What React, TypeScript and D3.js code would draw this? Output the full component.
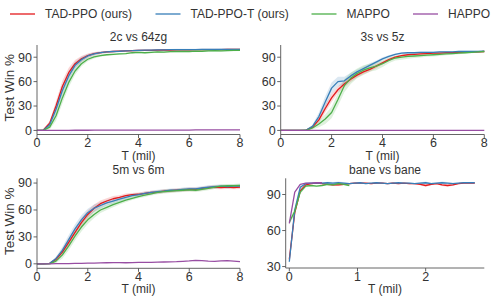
import React from "react";
import * as d3 from "d3";

const SERIES = ["TAD-PPO (ours)", "TAD-PPO-T (ours)", "MAPPO", "HAPPO"];
const COLORS = ["#e41a1c", "#377eb8", "#4daf4a", "#984ea3"];

const T8 = [0,0.25,0.5,0.75,1,1.25,1.5,1.75,2,2.25,2.5,2.75,3,3.25,3.5,3.75,4,4.25,4.5,4.75,5,5.25,5.5,5.75,6,6.25,6.5,6.75,7,7.25,7.5,7.75,8];

// 2c vs 64zg
const p1Red = [0,0.5,9,30,54,71,82,88,92,94.5,95.5,96.5,97,97.5,97.8,98,98.3,98.5,98.5,98.8,99,98.8,99,99.2,99,99.2,99.3,99.3,99.4,99.4,99.5,99.5,99.5];
const p1Blue = [0,0.3,7,26,49,67,80,87,91.5,94,95.5,96.5,97,97.3,97.8,98,98.4,98.6,98.8,99,99,99.2,99.3,99.3,99.4,99.4,99.5,99.5,99.5,99.6,99.6,99.6,99.7];
const p1Green = [0,0,4,18,40,59,73,82,87.5,90.5,92,93,93.5,94,94.5,95.5,96,95.5,96,96.5,96.3,96.8,97,97.2,97,97.5,97.3,97.8,98,97.8,98.2,98.3,98.5];
const p1Purple = [0,0,0,0,0.1,0.1,0.2,0.2,0.2,0.3,0.3,0.3,0.3,0.4,0.4,0.4,0.4,0.4,0.5,0.5,0.5,0.5,0.5,0.5,0.5,0.6,0.6,0.6,0.6,0.6,0.6,0.6,0.6];
const p1Std = [0,0.5,3,6,7,6,4.5,3.5,2.5,2,1.5,1.2,1,1,1,1,1,1,1,1,1,1,1,1,1,1,1,1,1,1,1,1,1];

// 3s vs 5z
const p2Red = [0,0,0,0,0.3,4,13,27,40,50,57,63,68,72,75,79,83,87,90,92,93,93.5,94,94.5,95,95,95.5,95.5,96,96,96.5,96.5,97];
const p2Blue = [0,0,0,0,0.5,5,17,35,52,60,61,67,72,76,80,84,88,91,93.5,95,95.5,95.5,96,96,96,96.5,96.5,96.5,97,97,97,97,97.5];
const p2Green = [0,0,0,0,0.2,3,8,14,22,38,55,64,70,74,77,79,82,86,89,90,91,91.5,92,92.5,93,93.5,94,94.5,95,95.5,96,96.5,97];
const p2Purple = [0,0,0,0,0,0,0,0,0,0,0,0,0,0,0,0,0,0,0,0,0,0,0,0,0,0,0,0,0,0,0,0,0];
const p2StdRed = [0,0,0,0,0.5,2,4,5,5,4,4,3.5,3,3,3,2.5,2,2,1.5,1.5,1,1,1,1,1,1,1,1,1,1,1,1,1];
const p2StdBlue = [0,0,0,0,0.5,2,5,7,7,6,5,4,3,3,2.5,2,2,1.5,1,1,1,1,1,1,1,1,1,1,1,1,1,1,1];
const p2StdGreen = [0,0,0,0,0.5,2,4,6,7,8,8,7,6,6,5,5,4,3.5,3,3,3,2.5,2.5,2,2,2,1.5,1.5,1.5,1,1,1,1];

// 5m vs 6m
const p3Red = [0,0,0.5,5,13,24,35,46,55,62,67,70,72.5,74,76,77,77.5,78.5,79.5,80,81,81.5,82,82.5,83,83,84,85,85.5,85,85.5,85,85.5];
const p3Blue = [0,0,0.5,6,15,27,39,49,57,62,65,68,70,72,74,76,77,78.5,79.5,80.5,81,82,82,83,83.5,83.5,84.5,85.5,86,86.5,86,86.5,86.5];
const p3Green = [0,0,0,3,10,20,31,41,49,55,60,63,66,68.5,71,73,75,76.5,78,79.5,80.5,81,81.5,82,82.5,82,83,84,85.5,86.5,87,87,87.5];
const p3Purple = [0,0,0,0.1,0.2,0.3,0.4,0.5,0.7,0.8,1,1.2,1.3,1.3,1.2,1.4,1.5,1.6,1.7,1.8,2,2.2,2.4,2.8,3.2,3.8,3.5,3,2.8,3.2,3.5,3,2.5];
const p3Std = [0,0,0.5,2,4,5,5,5,4.5,4,3.5,3,3,2.5,2.5,2,2,2,2,2,2,2,2,2,2,2,2,2,2,2,2,2,2];

// bane vs bane
const T3 = [0,0.08,0.16,0.24,0.32,0.4,0.48,0.56,0.64,0.72,0.8,0.88,0.96,1.04,1.12,1.2,1.28,1.36,1.44,1.52,1.6,1.68,1.76,1.84,1.92,2.0,2.08,2.16,2.24,2.32,2.4,2.48,2.56,2.64,2.72];
const p4Red = [36,75,93,98,99,99.5,99,98.5,98,98,98.5,99,99.5,99.5,99.5,99,99.5,99.5,99,99.5,99,99.5,99,99,98.5,97.5,98.5,99,98,97.5,98,99,99.5,99.5,99.5];
const p4Blue = [34,77,96,99,99.5,99.5,99.5,99.8,99.5,99.8,99.5,99,99.5,99.8,99,99.5,99.8,99.5,99,99.5,99.8,99.5,99.5,99,99.5,99.8,99,99.5,99.8,99.5,99,99.5,99.8,99.8,99.8];
const p4Green = [67,76,92,97,97.5,97,97.5,98.5,98,99,98.5,97.5];
const p4Purple = [66,92,98.5,99.5,99.5,99.8,99.8];
const p4Std = [2,3,2,1,0.5,0.5,0.5,0.8,1,1,0.8,0.5,0.5,0.5,0.5,0.5,0.5,0.5,0.5,0.5,0.5,0.5,0.5,0.5,0.8,1,0.8,0.5,1,1,0.8,0.5,0.5,0.5,0.5];

type S = { t: number[]; y: number[]; sd?: number[] };
type Panel = {
  title: string;
  x0: number; x1: number; y0: number; y1: number;
  xd: [number, number]; yd: [number, number];
  xt: number[]; yt: number[];
  ylab: boolean;
  series: S[];
};

const panels: Panel[] = [
  { title: "2c vs 64zg", x0: 37, x1: 240, y0: 45, y1: 134.5, xd: [0, 8], yd: [-5, 105], xt: [0,2,4,6,8], yt: [0,30,60,90], ylab: true,
    series: [ { t: T8, y: p1Red, sd: p1Std }, { t: T8, y: p1Blue, sd: p1Std }, { t: T8, y: p1Green, sd: p1Std }, { t: T8, y: p1Purple } ] },
  { title: "3s vs 5z", x0: 280.7, x1: 484.3, y0: 45, y1: 134.5, xd: [0, 8], yd: [-5, 105], xt: [0,2,4,6,8], yt: [0,30,60,90], ylab: false,
    series: [ { t: T8, y: p2Red, sd: p2StdRed }, { t: T8, y: p2Blue, sd: p2StdBlue }, { t: T8, y: p2Green, sd: p2StdGreen }, { t: T8, y: p2Purple } ] },
  { title: "5m vs 6m", x0: 37, x1: 240, y0: 178.3, y1: 268.3, xd: [0, 8], yd: [-5, 95.3], xt: [0,2,4,6,8], yt: [0,30,60,90], ylab: true,
    series: [ { t: T8, y: p3Red, sd: p3Std }, { t: T8, y: p3Blue, sd: p3Std }, { t: T8, y: p3Green, sd: p3Std }, { t: T8, y: p3Purple } ] },
  { title: "bane vs bane", x0: 285.7, x1: 484.3, y0: 178.3, y1: 268, xd: [-0.053, 2.86], yd: [28.8, 103.5], xt: [0,1,2], yt: [30,60,90], ylab: false,
    series: [ { t: T3, y: p4Red, sd: p4Std }, { t: T3, y: p4Blue, sd: p4Std }, { t: T3.slice(0, p4Green.length), y: p4Green, sd: p4Std }, { t: T3.slice(0, p4Purple.length), y: p4Purple } ] },
];

const FONT = "Liberation Sans, Arial, sans-serif";
const TXT = "#333";
const AX = "#555";

function PanelView({ p }: { p: Panel }) {
  const x = d3.scaleLinear().domain(p.xd).range([p.x0, p.x1]);
  const y = d3.scaleLinear().domain(p.yd).range([p.y1, p.y0]);
  const cid = "c" + p.title.replace(/\s/g, "");
  return (
    <g>
      <defs>
        <clipPath id={cid}>
          <rect x={p.x0} y={p.y0 - 2} width={p.x1 - p.x0 + 2} height={p.y1 - p.y0 + 2} />
        </clipPath>
      </defs>
      <g clipPath={`url(#${cid})`}>
        {p.series.map((s, k) => {
          if (!s.sd) return null;
          const area = d3.area<number>()
            .x((_, i) => x(s.t[i]))
            .y0((v, i) => y(v - s.sd![i]))
            .y1((v, i) => y(v + s.sd![i]));
          return <path key={"a" + k} d={area(s.y) || ""} fill={COLORS[k]} fillOpacity={0.18} stroke="none" />;
        })}
        {p.series.map((s, k) => {
          const ln = d3.line<number>().x((_, i) => x(s.t[i])).y((v) => y(v));
          return <path key={"l" + k} d={ln(s.y) || ""} fill="none" stroke={COLORS[k]} strokeWidth={1.3} strokeLinejoin="round" />;
        })}
      </g>
      <line x1={p.x0} x2={p.x0} y1={p.y0} y2={p.y1} stroke={AX} strokeWidth={0.9} />
      <line x1={p.x0} x2={p.x1} y1={p.y1} y2={p.y1} stroke={AX} strokeWidth={0.9} />
      {p.yt.map((v) => (
        <g key={"y" + v}>
          <line x1={p.x0 - 3.5} x2={p.x0} y1={y(v)} y2={y(v)} stroke={AX} strokeWidth={0.9} />
          <text x={p.x0 - 5} y={y(v)} dy="0.35em" textAnchor="end" fontSize={12.5} fill={TXT} fontFamily={FONT}>{v}</text>
        </g>
      ))}
      {p.xt.map((v) => (
        <g key={"x" + v}>
          <line x1={x(v)} x2={x(v)} y1={p.y1} y2={p.y1 + 3.5} stroke={AX} strokeWidth={0.9} />
          <text x={x(v)} y={p.y1 + 12.5} textAnchor="middle" fontSize={12.5} fill={TXT} fontFamily={FONT}>{v}</text>
        </g>
      ))}
      <text x={(p.x0 + p.x1) / 2} y={p.y1 + 25} textAnchor="middle" fontSize={12} fill={TXT} fontFamily={FONT}>T (mil)</text>
      <text x={(p.x0 + p.x1) / 2} y={p.y0 - 4} textAnchor="middle" fontSize={12} fill={TXT} fontFamily={FONT}>{p.title}</text>
      {p.ylab && (
        <text transform={`translate(14,${(p.y0 + p.y1) / 2 - 2}) rotate(-90)`} textAnchor="middle" fontSize={13.5} fill={TXT} fontFamily={FONT}>Test Win %</text>
      )}
    </g>
  );
}

const LEG_X = [10, 155.5, 311.5, 413];

export default function App() {
  return (
    <svg width={499} height={302} style={{ position: "absolute", left: 0, top: 0, background: "#fff" }}>
      {SERIES.map((name, k) => (
        <g key={name}>
          <line x1={LEG_X[k]} x2={LEG_X[k] + 25} y1={14} y2={14} stroke={COLORS[k]} strokeWidth={1.3} />
          <text x={LEG_X[k] + 35} y={14} dy="0.35em" fontSize={12} fill={TXT} fontFamily={FONT}>{name}</text>
        </g>
      ))}
      {panels.map((p) => <PanelView key={p.title} p={p} />)}
    </svg>
  );
}
